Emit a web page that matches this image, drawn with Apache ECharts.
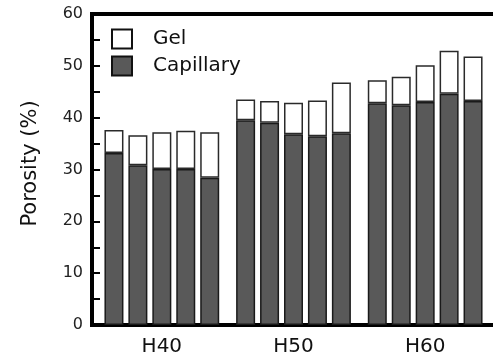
<!DOCTYPE html>
<html>
<head>
<meta charset="utf-8">
<script src="https://cdn.jsdelivr.net/npm/echarts@6/dist/echarts.min.js"></script>
<style>
  html, body { margin: 0; padding: 0; background: #fff; }
  #chart-container { width: 494px; height: 362px; }
</style>
</head>
<body>
<div id="chart-container"></div>
<script>
var dom = document.getElementById('chart-container');
var myChart = echarts.init(dom, null, { renderer: 'canvas' });

// groups on the x axis
var groups = ['H40', 'H50', 'H60'];

// capillary porosity (%), five specimens per group
var capH40 = [33.2, 30.8, 30.1, 30.1, 28.4];
var capH50 = [39.5, 39.0, 36.8, 36.4, 37.0];
var capH60 = [42.8, 42.4, 43.0, 44.6, 43.2];

// gel porosity (%) stacked on top
var gelH40 = [4.4, 5.8, 7.1, 7.4, 8.8];
var gelH50 = [4.0, 4.2, 6.1, 6.9, 9.8];
var gelH60 = [4.4, 5.5, 7.1, 8.3, 8.6];

var yTicks = [0, 10, 20, 30, 40, 50, 60];

var fontFam = 'DejaVu Sans';
var series = [];
for (var i = 0; i < 5; i++) {
  series.push({
    name: 'Capillary',
    type: 'bar',
    stack: 's' + i,
    barWidth: 19,
    barGap: '26%',
    data: [capH40[i], capH50[i], capH60[i]],
    itemStyle: { color: '#595959', borderColor: '#1a1a1a', borderWidth: 1.5 },
    emphasis: { disabled: true }
  });
  series.push({
    name: 'Gel',
    type: 'bar',
    stack: 's' + i,
    barWidth: 19,
    barGap: '26%',
    data: [gelH40[i], gelH50[i], gelH60[i]],
    itemStyle: { color: '#ffffff', borderColor: '#2a2a2a', borderWidth: 1.5 },
    emphasis: { disabled: true }
  });
}

var option = {
  animation: false,
  grid: { left: 96, right: 3, top: 14, bottom: 37 },
  legend: {
    data: ['Gel', 'Capillary'],
    orient: 'vertical',
    left: 111,
    top: 28,
    padding: 0,
    icon: 'rect',
    itemWidth: 20,
    itemHeight: 19,
    itemGap: 5,
    selectedMode: false,
    itemStyle: { borderWidth: 2, borderColor: '#111' },
    textStyle: { fontFamily: fontFam, fontSize: 20, lineHeight: 20, color: '#111', padding: [2, 0, 0, 16] }
  },
  xAxis: [{
    type: 'category',
    data: groups,
    axisLine: { lineStyle: { color: '#000', width: 4, cap: 'square' } },
    axisTick: { show: false },
    axisLabel: { fontFamily: fontFam, fontSize: 20, color: '#111', margin: 12 }
  }, {
    type: 'category',
    position: 'top',
    data: groups,
    axisLine: { lineStyle: { color: '#000', width: 4, cap: 'square' } },
    axisTick: { show: false },
    axisLabel: { show: false }
  }],
  yAxis: {
    type: 'value',
    min: 0,
    max: 60,
    interval: 10,
    offset: 4,
    name: 'Porosity (%)',
    nameLocation: 'middle',
    nameGap: 51,
    nameTextStyle: { fontFamily: fontFam, fontSize: 21, color: '#111', padding: [0, 0, 0, 12] },
    axisLine: { show: true, lineStyle: { color: '#000', width: 4, cap: 'square' } },
    axisTick: { show: true, inside: true, length: 8, lineStyle: { color: '#000', width: 2 } },
    minorTick: { show: true, splitNumber: 2, length: 8, lineStyle: { color: '#000', width: 2 } },
    splitLine: { show: false },
    axisLabel: {
      fontFamily: fontFam, fontSize: 16, color: '#222', margin: 9,
      formatter: function (v) { return yTicks.indexOf(v) >= 0 ? String(v) : ''; }
    }
  },
  series: series
};

myChart.setOption(option);
window.addEventListener('resize', myChart.resize);
</script>
</body>
</html>
